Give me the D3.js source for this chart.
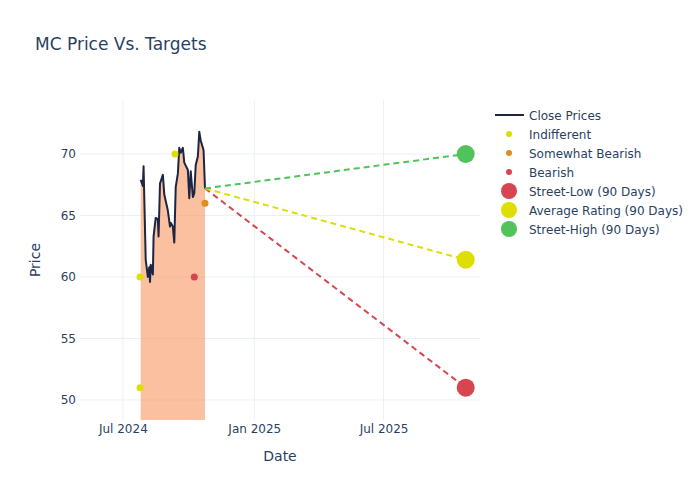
<!DOCTYPE html>
<html><head><meta charset="utf-8">
<script src="https://cdn.jsdelivr.net/npm/d3@7"></script>
<style>body{margin:0;background:#fff;font-family:"DejaVu Sans",verdana,arial,sans-serif;}</style>
</head><body><div id="chart"></div>
<script>
const closeDates = ["2024-07-26","2024-07-29","2024-07-30","2024-08-02","2024-08-05","2024-08-07","2024-08-08","2024-08-09","2024-08-12","2024-08-13","2024-08-16","2024-08-19","2024-08-20","2024-08-22","2024-08-26","2024-08-28","2024-09-02","2024-09-05","2024-09-06","2024-09-09","2024-09-11","2024-09-13","2024-09-16","2024-09-18","2024-09-20","2024-09-23","2024-09-25","2024-09-30","2024-10-02","2024-10-04","2024-10-07","2024-10-09","2024-10-11","2024-10-14","2024-10-16","2024-10-18","2024-10-22","2024-10-24"];
const closeValues = [67.9,67.4,69.0,61.4,60.0,60.8,59.6,61.0,60.2,63.3,64.8,64.7,63.3,67.6,68.3,66.7,65.4,64.1,64.4,64.1,62.8,67.3,68.4,70.5,70.1,70.5,69.3,68.7,66.4,68.6,66.5,66.8,69.1,69.8,71.8,71.1,70.3,67.2];

const ratingGroups = ["Indifferent","Somewhat Bearish","Bearish"];
const ratingColors = ["#dede00","#de8f22","#d64550"];
const ratingDates = [["2024-07-25","2024-07-25","2024-09-12"],["2024-10-24"],["2024-10-09"]];
const ratingValues = [[60,51,70],[66],[60]];

const targetNames = ["Street-Low (90 Days)","Average Rating (90 Days)","Street-High (90 Days)"];
const targetColors = ["#d64550","#dede00","#50c35a"];
const targetDate = "2025-10-24";
const targetValues = [51,61.4,70];

const xTickDates = ["2024-07-01","2025-01-01","2025-07-01"];
const xTickLabels = ["Jul 2024","Jan 2025","Jul 2025"];
const yTicks = [50,55,60,65,70];

const W=700,H=500, L=80,R=480,T=100,B=420;
const FONT = "'DejaVu Sans',verdana,arial,sans-serif";
const p = d3.timeParse("%Y-%m-%d");
const svg = d3.select("#chart").append("svg").attr("width",W).attr("height",H).style("font-family",FONT);
const x = d3.scaleTime().domain([p("2024-05-02"),p("2025-11-13")]).range([L,R]);
const y = d3.scaleLinear().domain([48.37,74.39]).range([B,T]);
const fc = "#2a3f5f";

// gridlines
const g = svg.append("g");
g.selectAll(".yg").data(yTicks).enter().append("line")
 .attr("x1",L).attr("x2",R).attr("y1",d=>y(d)).attr("y2",d=>y(d)).attr("stroke","#ebf0f8").attr("stroke-width",1);
g.selectAll(".xg").data(xTickDates).enter().append("line")
 .attr("y1",T).attr("y2",B).attr("x1",d=>x(p(d))).attr("x2",d=>x(p(d))).attr("stroke","#ebf0f8").attr("stroke-width",1);

// axes
const yAxis = d3.axisLeft(y).tickValues(yTicks).tickSize(0).tickPadding(3);
const ya = svg.append("g").attr("transform",`translate(${L-1},0)`).call(yAxis);
ya.select(".domain").remove();
ya.selectAll("text").attr("fill",fc).style("font-size","12px").style("font-family",FONT);
const xAxis = d3.axisBottom(x).tickValues(xTickDates.map(p)).tickFormat((d,i)=>xTickLabels[i]).tickSize(0).tickPadding(4);
const xa = svg.append("g").attr("transform",`translate(0,${B})`).call(xAxis);
xa.select(".domain").remove();
xa.selectAll("text").attr("fill",fc).style("font-size","12px").style("font-family",FONT);

svg.append("defs").append("clipPath").attr("id","clip").append("rect").attr("x",L).attr("y",T).attr("width",R-L).attr("height",B-T);
const plot = svg.append("g").attr("clip-path","url(#clip)");

const closeData = closeDates.map((d,i)=>({d:p(d),v:closeValues[i]}));
plot.append("path").datum(closeData)
 .attr("d",d3.area().x(d=>x(d.d)).y0(y(0)).y1(d=>y(d.v)))
 .attr("fill","rgba(248,140,80,0.55)");
plot.append("path").datum(closeData)
 .attr("d",d3.line().x(d=>x(d.d)).y(d=>y(d.v)))
 .attr("fill","none").attr("stroke","#1c2541").attr("stroke-width",2).attr("stroke-linejoin","round");

// dashed target lines
const last = closeData[closeData.length-1];
targetValues.forEach((v,i)=>{
  plot.append("line").attr("x1",x(last.d)).attr("y1",y(last.v)).attr("x2",x(p(targetDate))).attr("y2",y(v))
   .attr("stroke",targetColors[i]).attr("stroke-width",2).attr("stroke-dasharray","6,4");
});

// rating points
ratingGroups.forEach((gname,i)=>{
  ratingDates[i].forEach((d,j)=>{
    plot.append("circle").attr("cx",x(p(d))).attr("cy",y(ratingValues[i][j])).attr("r",3.5).attr("fill",ratingColors[i]);
  });
});
// target markers
targetValues.forEach((v,i)=>{
  svg.append("circle").attr("cx",x(p(targetDate))).attr("cy",y(v)).attr("r",9).attr("fill",targetColors[i]);
});

// title and axis titles
svg.append("text").attr("x",35).attr("y",50).text("MC Price Vs. Targets").attr("fill",fc).style("font-size","17px");
svg.append("text").attr("x",(L+R)/2).attr("y",461).attr("text-anchor","middle").text("Date").attr("fill",fc).style("font-size","14px");
svg.append("text").attr("transform",`translate(40,${(T+B)/2}) rotate(-90)`).attr("text-anchor","middle").text("Price").attr("fill",fc).style("font-size","14px");

// legend
const leg = svg.append("g");
const items = [{n:"Close Prices",t:"line",c:"#1c2541"}]
 .concat(ratingGroups.map((n,i)=>({n,t:"s",c:ratingColors[i]})))
 .concat(targetNames.map((n,i)=>({n,t:"b",c:targetColors[i]})));
items.forEach((it,i)=>{
  const yy = 115 + i*19;
  if(it.t==="line") leg.append("line").attr("x1",495).attr("x2",524).attr("y1",yy).attr("y2",yy).attr("stroke",it.c).attr("stroke-width",2);
  else leg.append("circle").attr("cx",509).attr("cy",yy).attr("r",it.t==="s"?3:8).attr("fill",it.c);
  leg.append("text").attr("x",529).attr("y",yy+4.5).text(it.n).attr("fill",fc).style("font-size","12px");
});
</script></body></html>
